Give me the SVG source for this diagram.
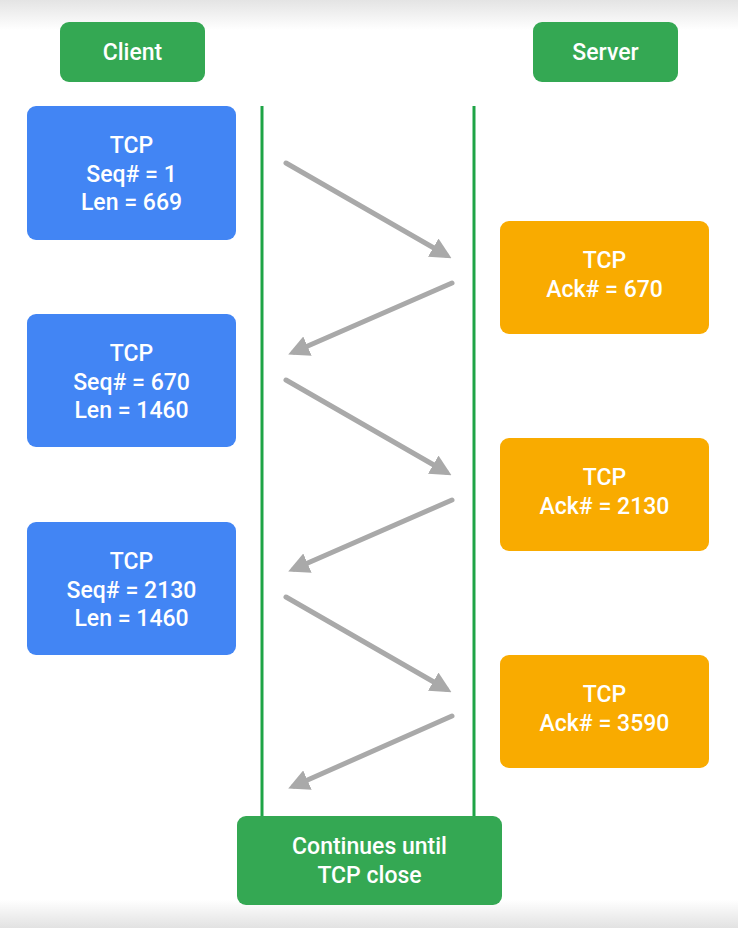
<svg xmlns="http://www.w3.org/2000/svg" width="738" height="928" viewBox="0 0 738 928">
<defs>
<linearGradient id="topfade" x1="0" y1="0" x2="0" y2="1">
<stop offset="0" stop-color="#e4e4e4"/>
<stop offset="1" stop-color="#ffffff"/>
</linearGradient>
<linearGradient id="botfade" x1="0" y1="0" x2="0" y2="1">
<stop offset="0" stop-color="#ffffff"/>
<stop offset="1" stop-color="#e2e2e2"/>
</linearGradient>
<marker id="ah" viewBox="0 0 10 10" refX="7" refY="5" markerWidth="4.2" markerHeight="4.2" orient="auto" markerUnits="strokeWidth">
<path d="M0,0 L10,5 L0,10 Z" fill="#a9a9a9"/>
</marker>
<style>
.green{fill:#34a853}
.blue{fill:#4285f4}
.orange{fill:#f9ab00}
.life{stroke:#1ea446;stroke-width:3;fill:none}
.msg{stroke:#a9a9a9;stroke-width:5;stroke-linecap:round;fill:none;marker-end:url(#ah)}
text{font-family:Roboto,"Liberation Sans",sans-serif;font-weight:500;font-size:23px;fill:#ffffff;text-anchor:middle}
</style>
</defs>
<rect x="0" y="0" width="738" height="928" fill="#ffffff"/>
<rect x="0" y="0" width="738" height="30" fill="url(#topfade)"/>
<rect x="0" y="900" width="738" height="28" fill="url(#botfade)"/>
<g id="lifelines">
<line class="life" x1="262" y1="106" x2="262" y2="818"/>
<line class="life" x1="474" y1="106" x2="474" y2="818"/>
</g>
<g id="connectors">
<line class="msg" x1="286" y1="163" x2="446" y2="255"/>
<line class="msg" x1="452" y1="283" x2="294" y2="352"/>
<line class="msg" x1="286" y1="380" x2="446" y2="472"/>
<line class="msg" x1="452" y1="500" x2="294" y2="569"/>
<line class="msg" x1="286" y1="597" x2="446" y2="689"/>
<line class="msg" x1="452" y1="716" x2="294" y2="786"/>
</g>
<g id="client">
<rect class="green" x="60" y="22" width="145" height="60" rx="9"/>
<text x="132.5" y="60">Client</text>
</g>
<g id="server">
<rect class="green" x="533" y="22" width="145" height="60" rx="9"/>
<text x="605.5" y="60">Server</text>
</g>
<g id="seg1">
<rect class="blue" x="27" y="106" width="209" height="134" rx="9"/>
<text x="131.5" y="153">TCP</text>
<text x="131.5" y="182">Seq# = 1</text>
<text x="131.5" y="210">Len = 669</text>
</g>
<g id="ack1">
<rect class="orange" x="500" y="221" width="209" height="113" rx="9"/>
<text x="604.5" y="268">TCP</text>
<text x="604.5" y="297">Ack# = 670</text>
</g>
<g id="seg2">
<rect class="blue" x="27" y="314" width="209" height="133" rx="9"/>
<text x="131.5" y="361">TCP</text>
<text x="131.5" y="390">Seq# = 670</text>
<text x="131.5" y="418">Len = 1460</text>
</g>
<g id="ack2">
<rect class="orange" x="500" y="438" width="209" height="113" rx="9"/>
<text x="604.5" y="485">TCP</text>
<text x="604.5" y="514">Ack# = 2130</text>
</g>
<g id="seg3">
<rect class="blue" x="27" y="522" width="209" height="133" rx="9"/>
<text x="131.5" y="569">TCP</text>
<text x="131.5" y="598">Seq# = 2130</text>
<text x="131.5" y="626">Len = 1460</text>
</g>
<g id="ack3">
<rect class="orange" x="500" y="655" width="209" height="113" rx="9"/>
<text x="604.5" y="702">TCP</text>
<text x="604.5" y="731">Ack# = 3590</text>
</g>
<g id="close">
<rect class="green" x="237" y="816" width="265" height="89" rx="9"/>
<text x="369.5" y="854">Continues until</text>
<text x="369.5" y="883">TCP close</text>
</g>
</svg>
